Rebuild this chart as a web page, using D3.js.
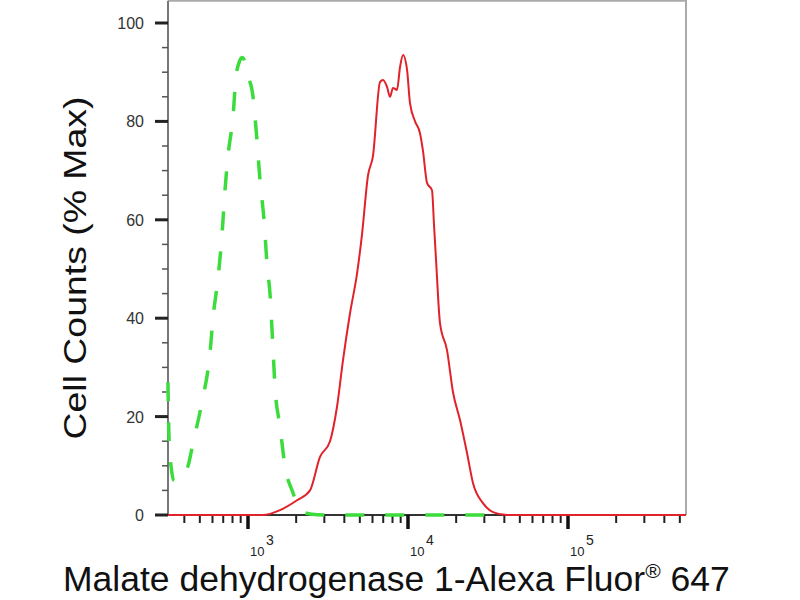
<!DOCTYPE html>
<html>
<head>
<meta charset="utf-8">
<script src="https://cdn.jsdelivr.net/npm/d3@7"></script>
<style>
  body { margin: 0; background: #fff; }
  text { font-family: "Liberation Sans", Arial, sans-serif; }
</style>
</head>
<body>
<div id="chart"></div>
<script>
// isotype control (green dashed) : [intensity, % max]
const isotype = [
  [316, 27], [320, 17], [326, 12], [333, 9], [345, 7], [362, 6.8], [385, 8],
  [422, 10], [453, 14.6], [516, 23], [579, 33], [604, 40], [649, 48], [688, 57],
  [718, 66], [750, 73], [806, 81], [841, 89], [880, 92], [917, 93], [960, 92],
  [986, 90], [1075, 85], [1139, 76], [1189, 68], [1259, 60], [1315, 51],
  [1372, 45], [1432, 34], [1475, 26], [1585, 18], [1702, 10], [1911, 4.5],
  [2113, 1], [2440, 0.2], [3000, 0], [40000, 0]
];

// Malate dehydrogenase 1 stained (red)
const stained = [
  [316, 0], [1240, 0], [1585, 1], [2024, 3], [2441, 5], [2818, 11.8],
  [3255, 15], [3600, 22], [3925, 31.5], [4341, 41], [4799, 49], [5158, 57],
  [5623, 69], [6043, 73], [6683, 88], [6982, 88.4], [7396, 87], [7722, 85],
  [8058, 86.8], [8535, 86.4], [8913, 91], [9311, 93.5], [9862, 90.5],
  [10292, 83.7], [11066, 80], [11885, 77.6], [12407, 74], [13154, 67.5],
  [14125, 66], [14540, 59], [14962, 52], [15849, 39], [17530, 33.5],
  [19100, 25], [21135, 19.3], [23380, 12.6], [25470, 6.5], [29420, 2.4],
  [33980, 0.6], [41590, 0], [546000, 0]
];

const yMajor = [0, 20, 40, 60, 80, 100];
const yMinor = d3.range(0, 101, 5);
const xMajor = [1e3, 1e4, 1e5];
const xMajorExp = ["3", "4", "5"];

const width = 800, height = 600;
const left = 168, right = 686, bottom = 515;

const svg = d3.select("#chart").append("svg")
  .attr("width", width)
  .attr("height", height);

const x = d3.scaleLog()
  .domain([Math.pow(10, 2.5), Math.pow(10, 5.7375)])
  .range([left, right]);

const y = d3.scaleLinear()
  .domain([0, 100])
  .range([bottom, 23]);

const plotTop = y(104.5);

// frame
svg.append("path")
  .attr("d", `M${left},${plotTop}H${right}V${bottom}`)
  .attr("fill", "none")
  .attr("stroke", "#aaa")
  .attr("stroke-width", 2);

// y axis
svg.append("line")
  .attr("x1", left).attr("x2", left)
  .attr("y1", plotTop).attr("y2", bottom)
  .attr("stroke", "#777").attr("stroke-width", 2);

svg.append("g").selectAll("line")
  .data(yMinor.filter(d => !yMajor.includes(d)))
  .join("line")
  .attr("x1", left - 6).attr("x2", left)
  .attr("y1", d => y(d)).attr("y2", d => y(d))
  .attr("stroke", "#555").attr("stroke-width", 1.5);

svg.append("g").selectAll("line")
  .data(yMajor)
  .join("line")
  .attr("x1", left - 13).attr("x2", left)
  .attr("y1", d => y(d)).attr("y2", d => y(d))
  .attr("stroke", "#222").attr("stroke-width", 3);

svg.append("g").selectAll("text")
  .data(yMajor)
  .join("text")
  .attr("x", 144)
  .attr("y", d => y(d) + 6)
  .attr("text-anchor", "end")
  .style("font-size", "16px")
  .attr("fill", "#333")
  .text(d => d);

// x axis
svg.append("line")
  .attr("x1", left).attr("x2", right)
  .attr("y1", bottom).attr("y2", bottom)
  .attr("stroke", "#333").attr("stroke-width", 2);

const xMinor = x.ticks().filter(d => !xMajor.includes(d) && x(d) >= left && x(d) <= right);

svg.append("g").selectAll("line")
  .data(xMinor)
  .join("line")
  .attr("x1", d => x(d)).attr("x2", d => x(d))
  .attr("y1", bottom).attr("y2", bottom + 8)
  .attr("stroke", "#222").attr("stroke-width", 2);

svg.append("g").selectAll("line")
  .data(xMajor)
  .join("line")
  .attr("x1", d => x(d)).attr("x2", d => x(d))
  .attr("y1", bottom).attr("y2", bottom + 14)
  .attr("stroke", "#111").attr("stroke-width", 3.5);

// decade labels: base and exponent as separate texts
svg.append("g").selectAll("text")
  .data(xMajor)
  .join("text")
  .attr("x", d => x(d) + 2)
  .attr("y", 556)
  .style("font-size", "13px")
  .attr("fill", "#222")
  .text("10");

svg.append("g").selectAll("text")
  .data(xMajor)
  .join("text")
  .attr("x", d => x(d) + 18)
  .attr("y", 545)
  .style("font-size", "14px")
  .attr("fill", "#222")
  .text((d, i) => xMajorExp[i]);

// curves
const line = d3.line()
  .x(d => x(d[0]))
  .y(d => y(d[1]))
  .curve(d3.curveMonotoneX);

svg.append("path")
  .datum(isotype)
  .attr("d", line)
  .attr("fill", "none")
  .attr("stroke", "#3ddc3d")
  .attr("stroke-width", 3.5)
  .attr("stroke-dasharray", "19,21");

svg.append("path")
  .datum(stained)
  .attr("d", line)
  .attr("fill", "none")
  .attr("stroke", "#e0232a")
  .attr("stroke-width", 2);

// titles
svg.append("text")
  .attr("transform", "translate(86,268) rotate(-90)")
  .attr("text-anchor", "middle")
  .attr("textLength", 343)
  .attr("lengthAdjust", "spacingAndGlyphs")
  .style("font-size", "32px")
  .attr("fill", "#111")
  .text("Cell Counts (% Max)");

const xt = svg.append("text")
  .attr("x", 63)
  .attr("y", 591)
  .style("font-size", "35.5px")
  .attr("fill", "#111");
xt.append("tspan").text("Malate dehydrogenase 1-Alexa Fluor");
xt.append("tspan").attr("dy", -13).style("font-size", "21px").text("®");
xt.append("tspan").attr("dy", 13).text(" 647");
</script>
</body>
</html>
